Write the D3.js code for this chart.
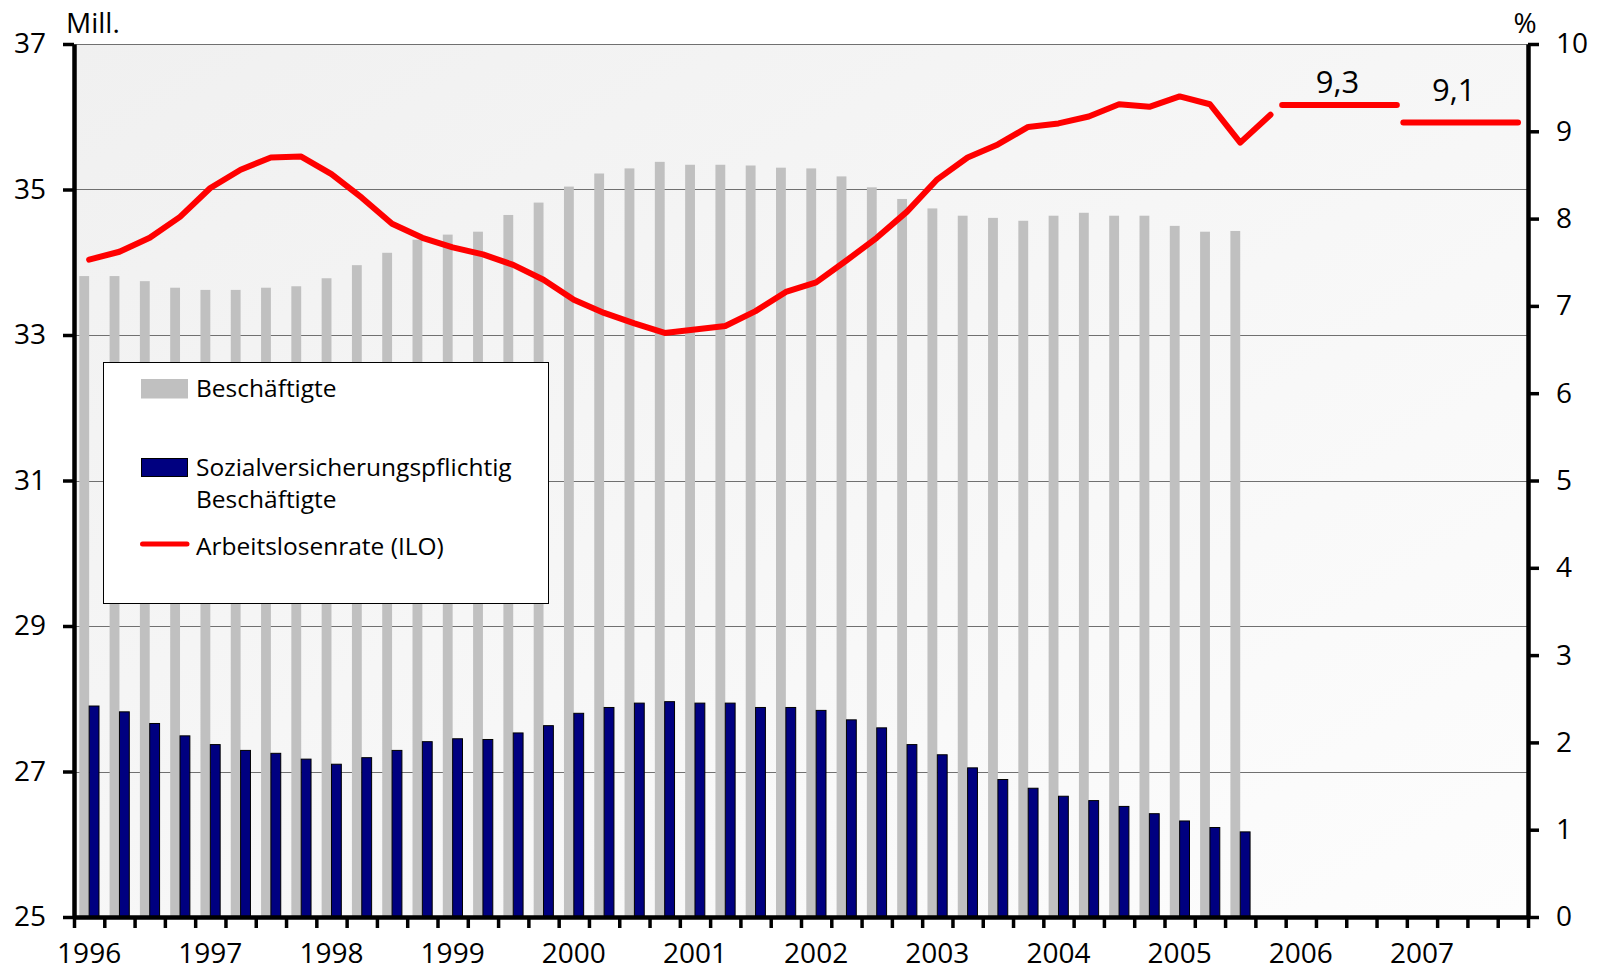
<!DOCTYPE html>
<html>
<head>
<meta charset="utf-8">
<script src="https://cdn.jsdelivr.net/npm/d3@7"></script>
<style>
  html, body { margin: 0; padding: 0; background: #ffffff; }
  svg { display: block; font-family: "Open Sans", "Noto Sans", sans-serif; font-weight: 500; }
</style>
</head>
<body>
<svg id="chart" width="1602" height="972"></svg>
<script>
// Quarterly time axis
const years = ['1996','1997','1998','1999','2000','2001','2002','2003','2004','2005','2006','2007'];
const quarters = ['Q1','Q2','Q3','Q4'];

// Beschäftigte (Mill.), 1996 Q1 – 2005 Q3
const employed = [
  33.81, 33.81, 33.74, 33.65, 33.62, 33.62, 33.65, 33.67,
  33.78, 33.96, 34.13, 34.31, 34.38, 34.42, 34.65, 34.82,
  35.04, 35.22, 35.29, 35.38, 35.34, 35.34, 35.33, 35.30,
  35.29, 35.18, 35.03, 34.87, 34.74, 34.64, 34.61, 34.57,
  34.64, 34.68, 34.64, 34.64, 34.50, 34.42, 34.43
];

// Sozialversicherungspflichtig Beschäftigte (Mill.), 1996 Q1 – 2005 Q3
const insured = [
  27.90, 27.82, 27.66, 27.49, 27.37, 27.29, 27.25, 27.17,
  27.10, 27.19, 27.29, 27.41, 27.45, 27.44, 27.53, 27.63,
  27.80, 27.88, 27.94, 27.96, 27.94, 27.94, 27.88, 27.88,
  27.84, 27.71, 27.60, 27.37, 27.23, 27.05, 26.89, 26.77,
  26.66, 26.60, 26.52, 26.42, 26.32, 26.23, 26.17
];

// Arbeitslosenrate (ILO) in %, 1996 Q1 – 2005 Q4
const unemploymentRate = [
  7.53, 7.62, 7.78, 8.02, 8.35, 8.56, 8.70, 8.71,
  8.51, 8.24, 7.94, 7.78, 7.67, 7.59, 7.47, 7.30,
  7.07, 6.92, 6.80, 6.69, 6.73, 6.77, 6.94, 7.16,
  7.27, 7.52, 7.78, 8.08, 8.45, 8.70, 8.85, 9.05,
  9.09, 9.17, 9.31, 9.28, 9.40, 9.31, 8.87, 9.19
];

// Annual forecasts of the rate
const forecastYears = ['2006', '2007'];
const forecastRates = [9.3, 9.1];
const forecastLabels = ['9,3', '9,1'];

// Axis ticks
const leftTicks = [25, 27, 29, 31, 33, 35, 37];
const rightTicks = [0, 1, 2, 3, 4, 5, 6, 7, 8, 9, 10];

// Legend entries
const legendLabels = [['Beschäftigte'], ['Sozialversicherungspflichtig', 'Beschäftigte'], ['Arbeitslosenrate (ILO)']];

// ---- layout ----
const FONT = '"Open Sans", "Noto Sans", sans-serif';
const plot = { left: 74, right: 1528, top: 44, bottom: 917 };
const svg = d3.select('#chart');

const periods = years.flatMap(y => quarters.map(q => y + q));
const xq = d3.scaleLinear().domain([0, periods.length]).range([plot.left, plot.right]);
const xb = d3.scaleBand().domain(periods).range([plot.left, plot.right])
  .paddingInner(0.35).paddingOuter(0.175);
const xs = d3.scaleBand().domain(['employed', 'insured']).range([0, xb.bandwidth()]);
const yL = d3.scaleLinear().domain([25, 37]).range([plot.bottom, plot.top]);
const yR = d3.scaleLinear().domain([0, 10]).range([plot.bottom, plot.top]);

// plot background
const defs = svg.append('defs');
const grad = defs.append('linearGradient').attr('id', 'bg')
  .attr('x1', 0).attr('y1', 0).attr('x2', 1).attr('y2', 1);
grad.append('stop').attr('offset', '0%').attr('stop-color', '#f0f0f0');
grad.append('stop').attr('offset', '100%').attr('stop-color', '#fdfdfd');

svg.append('rect')
  .attr('x', plot.left).attr('y', plot.top)
  .attr('width', plot.right - plot.left).attr('height', plot.bottom - plot.top)
  .attr('fill', 'url(#bg)');

// gridlines
svg.append('g').selectAll('line')
  .data(leftTicks.filter(t => t > 25))
  .join('line')
  .attr('x1', plot.left).attr('x2', plot.right)
  .attr('y1', d => Math.round(yL(d)) + 0.5).attr('y2', d => Math.round(yL(d)) + 0.5)
  .attr('stroke', '#707070').attr('stroke-width', 1.2);

// bars
const barsG = svg.append('g');
barsG.selectAll('rect.emp')
  .data(employed)
  .join('rect').attr('class', 'emp')
  .attr('x', (d, i) => xb(periods[i]) + xs('employed'))
  .attr('width', xs.bandwidth())
  .attr('y', d => yL(d))
  .attr('height', d => yL(25) - yL(d))
  .attr('fill', '#c0c0c0');

barsG.selectAll('rect.ins')
  .data(insured)
  .join('rect').attr('class', 'ins')
  .attr('x', (d, i) => xb(periods[i]) + xs('insured'))
  .attr('width', xs.bandwidth())
  .attr('y', d => yL(d))
  .attr('height', d => yL(25) - yL(d))
  .attr('fill', '#000080')
  .attr('stroke', '#000000').attr('stroke-width', 1);

// unemployment rate line
const line = d3.line()
  .x((d, i) => xq(i + 0.5))
  .y(d => yR(d));

svg.append('path')
  .datum(unemploymentRate)
  .attr('d', line)
  .attr('fill', 'none')
  .attr('stroke', '#ff0000')
  .attr('stroke-width', 6)
  .attr('stroke-linejoin', 'round')
  .attr('stroke-linecap', 'round');

// forecast segments, one per year
const fcG = svg.append('g');
forecastYears.forEach((yr, k) => {
  const i0 = periods.indexOf(yr + 'Q1');
  const xa = xq(i0) - 3.5;
  const xe = xq(i0 + 4) - 10;
  const yv = yR(forecastRates[k]);
  fcG.append('line')
    .attr('x1', xa).attr('x2', xe).attr('y1', yv).attr('y2', yv)
    .attr('stroke', '#ff0000').attr('stroke-width', 6)
    .attr('stroke-linecap', 'round');
  fcG.append('text')
    .attr('x', (xa + xe) / 2 - (k === 0 ? 2 : 7))
    .attr('y', yv - (k === 0 ? 12 : 22))
    .attr('text-anchor', 'middle')
    .attr('font-size', 31)
    .attr('fill', '#000')
    .text(forecastLabels[k]);
});

// legend
const lg = svg.append('g');
lg.append('rect')
  .attr('x', 103.5).attr('y', 362.5).attr('width', 445).attr('height', 241)
  .attr('fill', '#ffffff').attr('stroke', '#000000').attr('stroke-width', 1);
lg.append('rect')
  .attr('x', 141).attr('y', 379).attr('width', 47).attr('height', 19.5)
  .attr('fill', '#c0c0c0');
lg.append('rect')
  .attr('x', 141.5).attr('y', 458.5).attr('width', 46).attr('height', 18)
  .attr('fill', '#000080').attr('stroke', '#000').attr('stroke-width', 1);
lg.append('line')
  .attr('x1', 142.5).attr('x2', 187).attr('y1', 544).attr('y2', 544)
  .attr('stroke', '#ff0000').attr('stroke-width', 5).attr('stroke-linecap', 'round');
const legendBaselines = [[397], [476, 507.5], [555]];
legendLabels.forEach((lines, k) => {
  lines.forEach((t, j) => {
    lg.append('text')
      .attr('x', 196).attr('y', legendBaselines[k][j])
      .attr('font-size', 24.5).attr('fill', '#000')
      .text(t);
  });
});

// axes
function styleAxis(g) {
  g.select('.domain').attr('stroke', '#000').attr('stroke-width', 4.5);
  g.selectAll('.tick line').attr('stroke', '#000').attr('stroke-width', 3.5);
  g.selectAll('.tick text').attr('fill', '#000').attr('font-size', 28)
    .attr('font-family', FONT).attr('font-weight', 500);
}

svg.append('g')
  .attr('transform', `translate(0,${plot.bottom})`)
  .call(d3.axisBottom(xq).tickValues(d3.range(periods.length + 1))
    .tickFormat('').tickSize(11).tickSizeOuter(0))
  .call(styleAxis);

svg.append('g')
  .attr('transform', `translate(${plot.left},0)`)
  .call(d3.axisLeft(yL).tickValues(leftTicks).tickSize(11).tickPadding(17).tickSizeOuter(0))
  .call(styleAxis);

svg.append('g')
  .attr('transform', `translate(${plot.right},0)`)
  .call(d3.axisRight(yR).tickValues(rightTicks).tickSize(11).tickPadding(17).tickSizeOuter(0))
  .call(styleAxis);

// year labels under the first quarter of each year
svg.append('g').selectAll('text')
  .data(years)
  .join('text')
  .attr('x', (d, i) => xq(i * 4 + 0.5))
  .attr('y', 963)
  .attr('text-anchor', 'middle')
  .attr('font-size', 28)
  .attr('fill', '#000')
  .text(d => d);

// unit labels
svg.append('text').attr('x', 66).attr('y', 33).attr('font-size', 28).attr('fill', '#000').text('Mill.');
svg.append('text').attr('x', 1525).attr('y', 33).attr('text-anchor', 'middle')
  .attr('font-size', 28).attr('fill', '#000').text('%');
</script>
</body>
</html>
